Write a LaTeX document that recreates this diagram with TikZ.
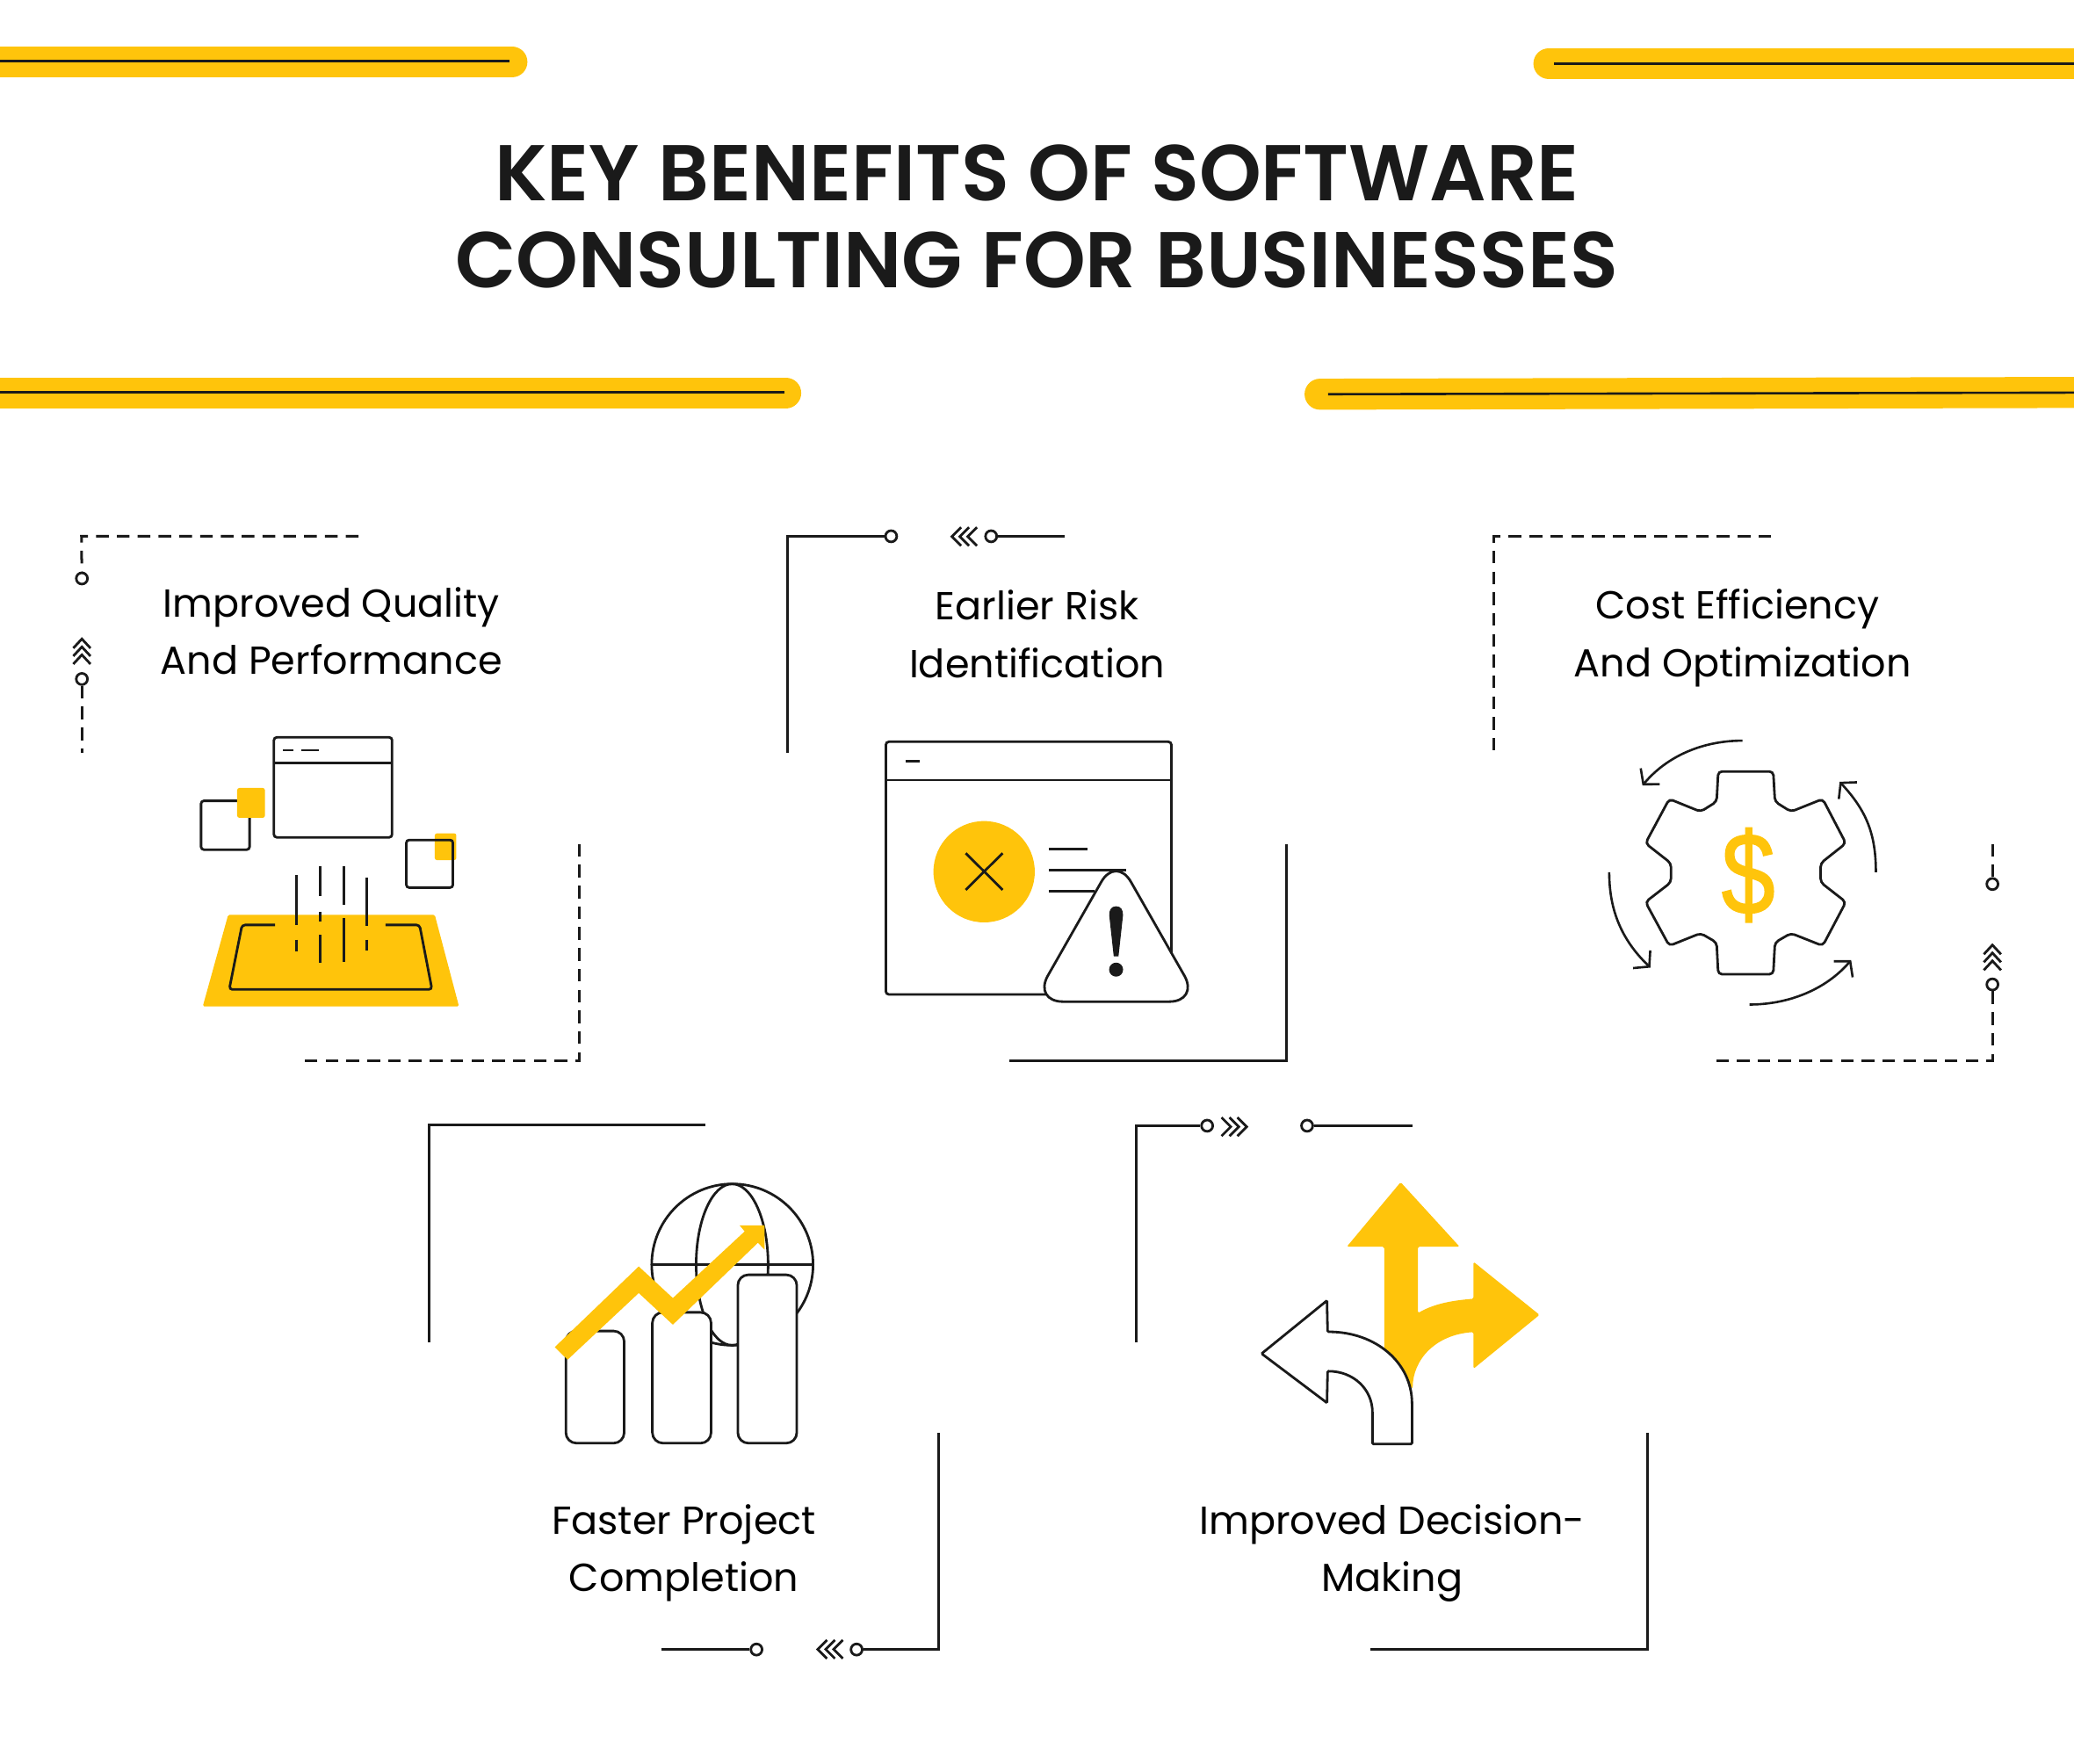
\documentclass[tikz,border=0pt]{standalone}
\usepackage{fontspec}
\usepackage{xcolor}
\setmainfont{Poppins}[BoldFont={Poppins SemiBold}]
\newfontfamily\dollarfont{Liberation Sans}[FakeBold=1.4,FakeStretch=.82]
\usetikzlibrary{arrows.meta,calc,positioning}
\definecolor{amber}{HTML}{FFC40B}
\definecolor{ink}{HTML}{1A1A1A}
\tikzset{
	thin line/.style={draw=ink, line width=.7pt},
	solid frame/.style={draw=ink, line width=.75pt},
	dash frame/.style={draw=ink, line width=.75pt, dash pattern=on 3.6pt off 2.3pt},
	ring/.style={circle, draw=ink, fill=white, line width=.7pt, inner sep=0pt, minimum size=3.2pt},
	amber bar/.style={draw=amber, line width=8.8pt, line cap=round},
	bar core/.style={draw=ink, line width=.65pt},
	caption/.style={align=center, font=\fontsize{11.08}{16.4}\selectfont, text=black, inner sep=0pt},
	swirl/.style={draw=ink, line width=.65pt, -{Straight Barb[length=3pt,width=7pt]}},
}
\begin{document}
\begin{tikzpicture}[x=.375pt, y=-.375pt]
	\clip (0,0) rectangle (1568,1333);
	\fill [white] (0,0) rectangle (1568,1333);

	% header bars
	\foreach \xa/\xb/\xc/\xd/\y in {-20/387/0/385/46.8, -20/594/0/593/297}{
		\draw [amber bar] (\xa,\y) -- (\xb,\y);
		\draw [bar core] (\xc,\y-.6) -- (\xd,\y-.6);
	}
	\foreach \xa/\xb/\xc/\xd/\y in {1171/1600/1175/1568/48}{
		\draw [amber bar] (\xa,\y) -- (\xb,\y);
		\draw [bar core] (\xc,\y) -- (\xd,\y);
	}
	\draw [amber bar] (998,298) -- (1600,296.6);
	\draw [bar core] (1004,298) -- (1568,296.8);
	\node [align=center, inner sep=0pt, text=ink, font=\fontsize{22.43}{24.6}\selectfont\bfseries] (heading) at (784,163.4) {KEY BENEFITS OF SOFTWARE\\CONSULTING FOR BUSINESSES};

	% captions
	\node [caption] (quality) at (250.5,477) {Improved Quality\\And Performance};
	\node [caption] (risk) at (784,479.2) {Earlier Risk\\Identification};
	\node [caption] (cost) at (1317.5,482.5) {Cost Efficiency\hspace*{3pt}\\And Optimization};
	\node [caption] (speed) at (517,1174) {Faster Project\\Completion};
	\node [caption] (decision) at (1052.5,1174.2) {Improved Decision-\\Making};

	% frame corners
	\node [ring] (qa) at (61.9,437.3) {};
	\node [ring] (qb) at (61.9,513.3) {};
	\draw [dash frame] (271,405.4) coordinate (qtop) -- (61.6,405.4) -- (qa);
	\draw [dash frame] (qb) -- (61.9,569.4) coordinate (qend);
	\draw [dash frame] (438.2,638) coordinate (qup) -- (438.2,801.7) -- (229.5,801.7) coordinate (qlow);

	\node [ring] (ra) at (673.7,405.4) {};
	\node [ring] (rb) at (749.3,405.4) {};
	\draw [solid frame] (595.7,569.4) coordinate (rend) -- (595.7,405.4) -- (ra);
	\draw [solid frame] (rb) -- (805,405.4) coordinate (rtop);
	\draw [solid frame] (972.3,638) coordinate (rup) -- (972.3,801.7) -- (763,801.7) coordinate (rlow);

	\node [ring] (ca) at (1506.3,668.3) {};
	\node [ring] (cb) at (1506.3,744.2) {};
	\draw [dash frame] (1339,405.4) coordinate (ctop) -- (1129.6,405.4) -- (1129.6,569.4) coordinate (cend);
	\draw [dash frame] (1506.3,638) coordinate (cup) -- (ca);
	\draw [dash frame] (cb) -- (1506.3,801.7) -- (1297.8,801.7) coordinate (clow);

	\node [ring] (sa) at (571.9,1247) {};
	\node [ring] (sb) at (647.6,1247) {};
	\draw [solid frame] (324.6,1014.9) coordinate (send) -- (324.6,850.4) -- (533.6,850.4) coordinate (stop);
	\draw [solid frame] (500,1247) coordinate (slow) -- (sa);
	\draw [solid frame] (sb) -- (709.3,1247) -- (709.3,1083) coordinate (sup);

	\node [ring] (da) at (912.6,851) {};
	\node [ring] (db) at (988.2,851) {};
	\draw [solid frame] (858.8,1014.9) coordinate (dend) -- (858.8,851) -- (da);
	\draw [solid frame] (db) -- (1068,851) coordinate (dtop);
	\draw [solid frame] (1245.3,1083) coordinate (dup) -- (1245.3,1247) -- (1036,1247) coordinate (dlow);

	% chevrons
	\foreach \cx/\cy in {61.9/483, 1506.3/714.4}
		\foreach \k in {0,6,12}
			\draw [thin line] (\cx-6.5,\cy+7+\k) -- (\cx,\cy+\k) -- (\cx+6.5,\cy+7+\k);
	\foreach \cx/\cy in {719.6/405.6, 618.2/1246.8}
		\foreach \k in {0,6,12}
			\draw [thin line] (\cx+7+\k,\cy-7) -- (\cx+\k,\cy) -- (\cx+7+\k,\cy+7);
	\foreach \k in {0,6,12}
		\draw [thin line] (935.5-\k,844.8) -- (942.5-\k,851.8) -- (935.5-\k,858.8);

	% quality icon
	\draw [thin line, rounded corners=.8pt] (207.1,557.4) rectangle (296.4,633);
	\draw [thin line] (207.1,576.7) -- (296.4,576.7);
	\draw [thin line] (214,567.2) -- (221.8,567.2) (228.1,567.2) -- (241.3,567.2);
	\draw [thin line, rounded corners=.8pt] (152,605.4) rectangle (188.7,642.3);
	\fill [amber, rounded corners=.6pt] (179.3,595.7) rectangle (200.3,618.2);
	\fill [amber, rounded corners=.6pt] (328.7,630) rectangle (345,650.2);
	\draw [thin line, rounded corners=.8pt] (307.2,635) rectangle (342.4,671);
	\fill [amber, rounded corners=.4pt] (172.5,691.6) -- (328.7,691.6) -- (347,760.8) -- (153.3,760.8) -- cycle;
	\draw [thin line, rounded corners=.9pt] (207.9,699.2) -- (183,699.2) -- (173.3,748) -- (326.6,748) -- (317.2,699.2) -- (291.4,699.2);
	\foreach \lx/\la/\lb in {224.2/661.5/699.5, 224.2/710.3/719, 242/654.8/677.3, 242/689.2/696.5, 242/706.8/728, 259.9/654.8/683.8, 259.9/694.1/726.9, 277.2/663.4/699.8, 277.2/710.3/718.5}
		\draw [thin line] (\lx,\la) -- (\lx,\lb);

	% risk icon
	\draw [thin line, rounded corners=.9pt] (669.7,560.7) rectangle (885.6,751.8);
	\draw [thin line] (669.7,589.7) -- (885.6,589.7);
	\draw [thin line] (684.7,575.6) -- (695,575.6);
	\fill [amber] (744,659) circle (38.3);
	\draw [thin line] (730.1,645) -- (758,672.7) (758,645) -- (730.1,672.7);
	\draw [thin line] (792.9,641.8) -- (822.3,641.8) (792.9,657.8) -- (851.2,657.8) (792.9,673.7) -- (827.3,673.7);
	\draw [thin line, fill=white, rounded corners=8.5pt] (843.8,647) -- (781,757.2) -- (906.6,757.2) -- cycle;
	\fill [ink] (843.8,685.1) .. controls (847.5,685.1) and (849.2,688) .. (849,692) -- (845.6,723) -- (842,723) -- (838.6,692) .. controls (838.4,688) and (840.1,685.1) .. (843.8,685.1) -- cycle;
	\fill [ink] (843.8,733) circle (5.3);

	% cost icon
	\draw [thin line, rounded corners=1.1pt] (1299,583.2) -- (1340.6,583.2) -- (1341.9,606) -- (1354,613.6) -- (1378,604) -- (1395.5,637.5) -- (1376.4,652.6) -- (1376.4,667) -- (1395.5,681.9) -- (1378,715) -- (1354,705.5) -- (1341.9,712.5) -- (1340.6,736.5) -- (1299,736.5) -- (1297.8,712.5) -- (1285.7,705.5) -- (1262,715) -- (1244,681.9) -- (1263.3,667) -- (1263.3,652.6) -- (1244,637.5) -- (1262,604) -- (1285.7,613.6) -- (1297.8,606) -- cycle;
	\node [inner sep=0pt, text=amber, font=\fontsize{33}{33}\dollarfont] (dollar) at (1321.7,661.5) {\$};
	\draw [swirl] (1317.4,559.9) .. controls (1288,559.9) and (1260.7,571.1) .. (1241.7,593.8);
	\draw [swirl] (1418.2,659.4) .. controls (1418.2,630) and (1410.8,612.6) .. (1390.8,591);
	\draw [swirl] (1216.6,659.4) .. controls (1216.6,689) and (1226.5,711) .. (1247.7,731.5);
	\draw [swirl] (1322.6,759.4) .. controls (1352,759.4) and (1380.3,748.2) .. (1399.5,725.8);

	% speed icon
	\draw [thin line] (553.7,956) circle (61);
	\draw [thin line] (553.5,956) ellipse (27.2 and 61);
	\draw [thin line] (492.7,956.1) -- (614.7,956.1);
	\foreach \xa/\ya/\xb in {427.8/1006.2/471.9, 493.2/992.1/537.6, 557.8/963.7/602.4}
		\draw [thin line, fill=white, rounded corners=3pt] (\xa,\ya) rectangle (\xb,1091);
	\fill [amber] (419.4,1018.4) -- (482.9,957.4) -- (508.7,981.3) -- (563,930.9) -- (559.1,926.3) -- (578,926.3) -- (578,944.7) -- (573,939.5) -- (508.7,1001.4) -- (482.9,977.5) -- (429.1,1027.9) -- cycle;

	% decision icon
	\fill [amber, rounded corners=.4pt] (1058.9,893.7) -- (1103.5,942.5) -- (1072,942.5) -- (1072,992.7) .. controls (1085,985) and (1100,983) .. (1114,981.8) -- (1114,953.9) -- (1163.9,994) -- (1114,1034.7) -- (1114,1007) .. controls (1085,1009) and (1068,1028) .. (1068,1050) -- (1046.5,1020) -- (1046.5,942.5) -- (1018.2,942.5) -- cycle;
	\draw [thin line, fill=white, rounded corners=.3pt] (953.8,1023.3) -- (1003.2,983.2) -- (1003.7,1006.8) .. controls (1040,1006.8) and (1067.5,1030) .. (1067.5,1061.8) -- (1067.5,1091.6) -- (1037.6,1091.6) -- (1037.6,1068.6) .. controls (1037.6,1050) and (1023,1036.6) .. (1003.7,1036.6) -- (1003.2,1060.5) -- cycle;
\end{tikzpicture}
\end{document}
